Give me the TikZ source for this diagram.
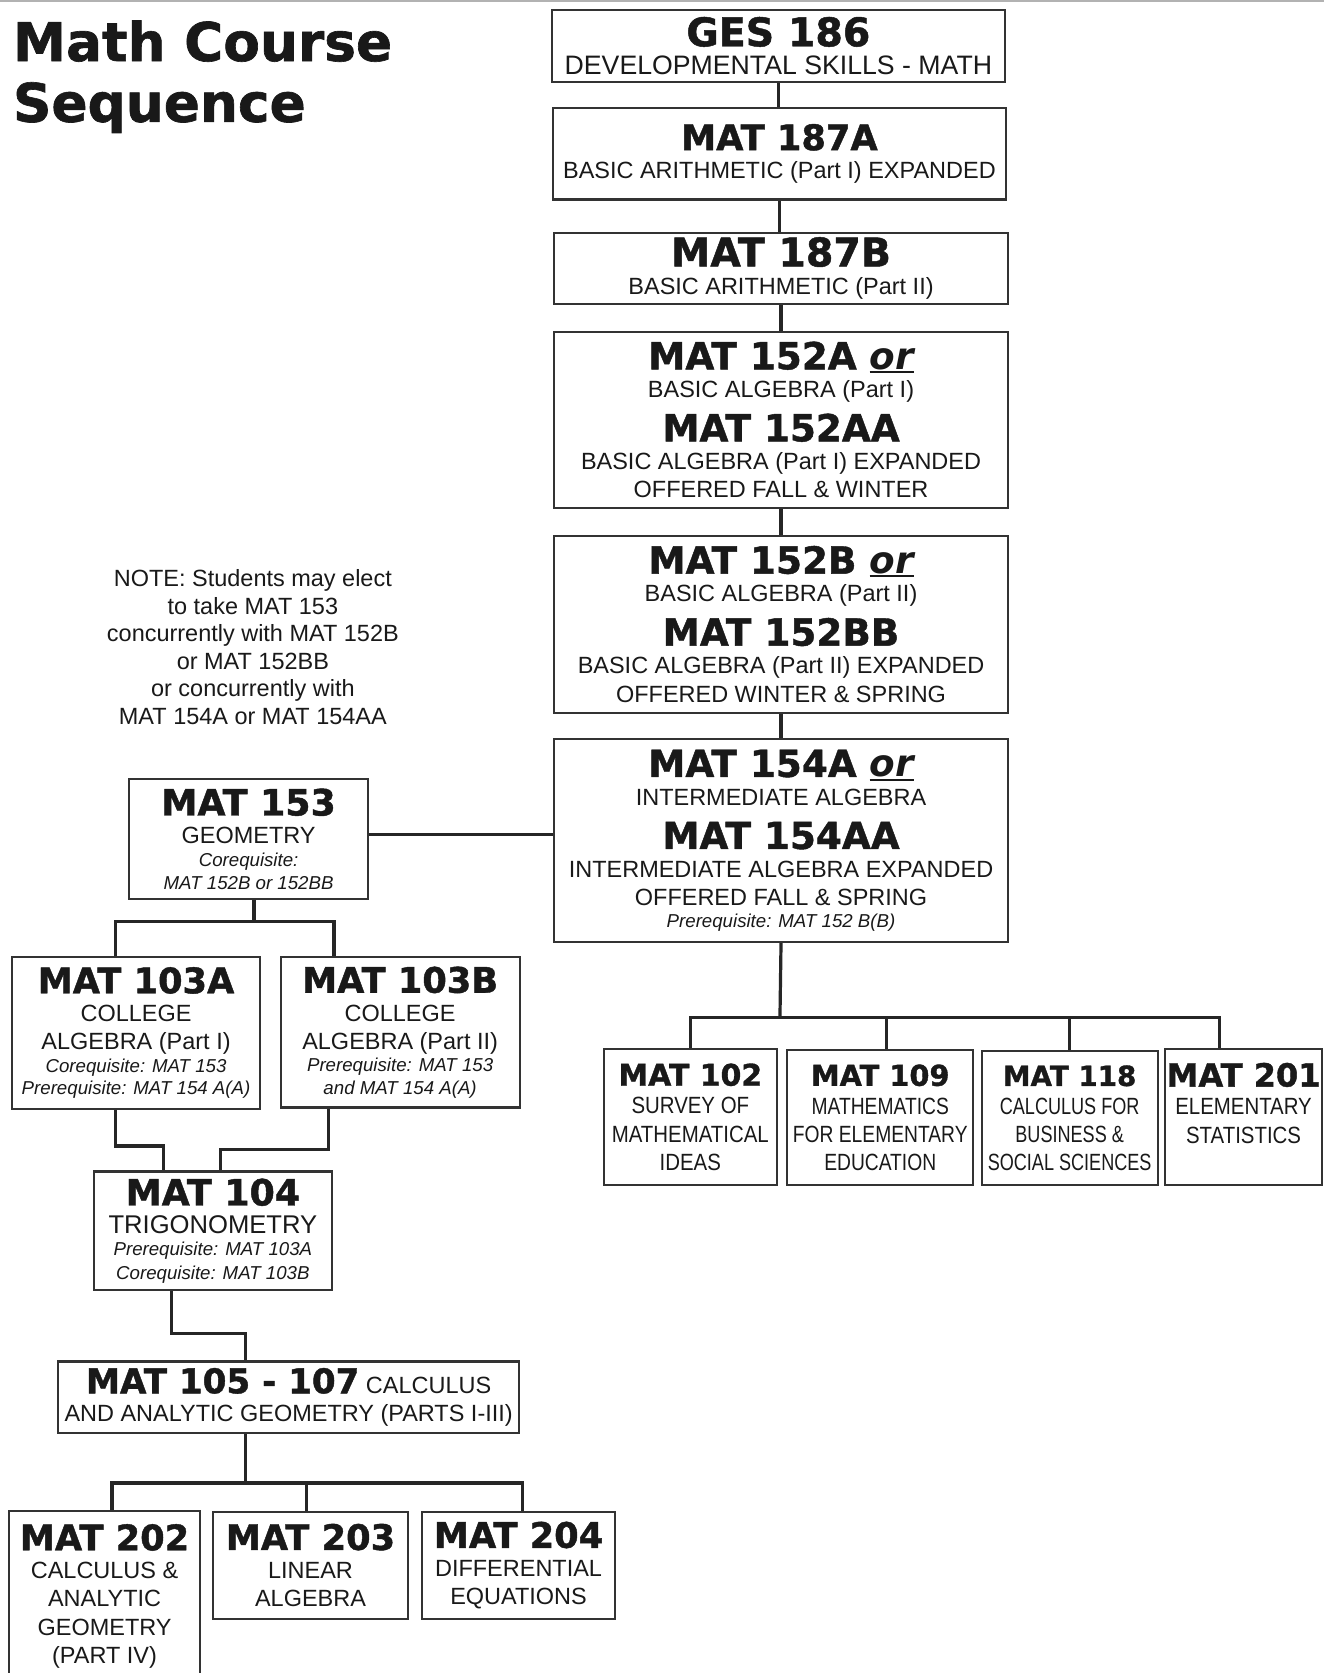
\documentclass[tikz,border=0pt]{standalone}
\usepackage{fontspec}
\usepackage{graphicx}
\setmainfont{Liberation Sans}
\newfontfamily\hdfont[BoldFeatures={FakeBold=1.2}]{DejaVu Sans}
% heading line, body helpers
\newcommand\hd[2][35]{{\hdfont\bfseries\fontsize{#1}{26.5}\selectfont #2}}
\newcommand\req[1]{{\itshape\fontsize{17.5}{21}\selectfont #1}}
\newcommand\cnd[2]{\scalebox{#1}[1]{#2}}
\newcommand\orr{{\itshape\setbox0=\hbox{or}\rlap{\rule[-3.5pt]{\wd0}{2pt}}\box0}}

\begin{document}
\begin{tikzpicture}[x=1pt, y=-1pt,
    course/.style={draw=black!80, line width=2pt, fill=white, align=center,
        inner sep=0pt, text=black!90,
        font={\fontsize{22}{26.5}\selectfont\lineskiplimit=-100pt}},
    link/.style={draw=black!85, line width=3pt}]
    \fill[white] (0,0) rectangle (1241,1568);
    \useasboundingbox (0,0) rectangle (1241,1568);
    \draw[gray!60, line width=2pt] (0,1) -- (1241,1);

    % title and note
    \node[anchor=north west, inner sep=0pt, align=left, text=black!90,
        font={\hdfont\bfseries\fontsize{50}{57}\selectfont}] (title) at (12,19) {Math Course\\Sequence};
    \node[align=center, inner sep=0pt, text=black!90,
        font={\fontsize{22}{25.8}\selectfont}] (note) at (237,606.5)
        {NOTE: Students may elect\\to take MAT 153\\concurrently with MAT 152B\\or MAT 152BB\\or concurrently with\\MAT 154A or MAT 154AA};

    % main column
    \node[course, minimum width=425pt, minimum height=68pt] (ges) at (729.5,43)
        {\hd[37]{GES 186}\\{\fontsize{25}{26.5}\selectfont DEVELOPMENTAL SKILLS - MATH}};
    \node[course, minimum width=425pt, minimum height=86pt] (m187a) at (730.5,144)
        {\hd[33]{MAT 187A}\\BASIC ARITHMETIC (Part I) EXPANDED};
    \node[course, minimum width=426pt, minimum height=67pt] (m187b) at (732,251.5)
        {\hd[37]{MAT 187B}\\BASIC ARITHMETIC (Part II)};
    \node[course, minimum width=426pt, minimum height=165pt] (m152a) at (732,393.5)
        {\hd{MAT 152A \orr}\\BASIC ALGEBRA (Part I)\\[14.5pt]\hd{MAT 152AA}\\BASIC ALGEBRA (Part I) EXPANDED\\OFFERED FALL \& WINTER};
    \node[course, minimum width=426pt, minimum height=166pt] (m152b) at (732,585)
        {\hd{MAT 152B \orr}\\BASIC ALGEBRA (Part II)\\[14.5pt]\hd{MAT 152BB}\\BASIC ALGEBRA (Part II) EXPANDED\\OFFERED WINTER \& SPRING};
    \node[course, minimum width=426pt, minimum height=190pt] (m154a) at (732,788)
        {\hd{MAT 154A \orr}\\INTERMEDIATE ALGEBRA\\[14.5pt]\hd{MAT 154AA}\\INTERMEDIATE ALGEBRA EXPANDED\\OFFERED FALL \& SPRING\\[-5.5pt]\req{Prerequisite: MAT 152 B(B)}};

    % left branch
    \node[course, minimum width=224pt, minimum height=112pt] (m153) at (233,786.5)
        {\hd[34]{MAT 153}\\GEOMETRY\\[-5pt]\req{Corequisite:}\\[-5pt]\req{MAT 152B or 152BB}};
    \node[course, minimum width=233pt, minimum height=142pt] (m103a) at (127.5,968)
        {\hd[33]{MAT 103A}\\COLLEGE\\ALGEBRA (Part I)\\[-5.5pt]\req{Corequisite: MAT 153}\\[-5.5pt]\req{Prerequisite: MAT 154 A(A)}};
    \node[course, minimum width=224pt, minimum height=141pt] (m103b) at (375,967.5)
        {\hd[33]{MAT 103B}\\COLLEGE\\ALGEBRA (Part II)\\[-5.5pt]\req{Prerequisite: MAT 153}\\[-5.5pt]\req{and MAT 154 A(A)}};
    \node[course, minimum width=223pt, minimum height=111pt] (m104) at (199.5,1153.5)
        {\hd[34]{MAT 104}\\{\fontsize{24}{26.5}\selectfont TRIGONOMETRY}\\[-6pt]\req{Prerequisite: MAT 103A}\\[-4.5pt]\req{Corequisite: MAT 103B}};
    \node[course, minimum width=432pt, minimum height=67pt] (m105) at (270.5,1309.5)
        {\hd[32]{MAT 105 - 107} CALCULUS\\AND ANALYTIC GEOMETRY (PARTS I-III)};
    \node[course, minimum width=179pt, minimum height=160pt] (m202) at (98,1496)
        {\hd[33]{MAT 202}\\CALCULUS \&\\ANALYTIC\\GEOMETRY\\(PART IV)};
    \node[course, minimum width=182pt, minimum height=100pt] (m203) at (291,1467)
        {\hd[33]{MAT 203}\\LINEAR\\ALGEBRA};
    \node[course, minimum width=181pt, minimum height=100pt] (m204) at (486,1467)
        {\hd[33]{MAT 204}\\DIFFERENTIAL\\EQUATIONS};

    % right branch
    \node[course, minimum width=162pt, minimum height=128pt] (m102) at (647,1047)
        {\hd[28]{MAT 102}\\\cnd{0.87}{SURVEY OF}\\\cnd{0.87}{MATHEMATICAL}\\\cnd{0.87}{IDEAS}};
    \node[course, minimum width=174pt, minimum height=127pt] (m109) at (825,1047.5)
        {\hd[27]{MAT 109}\\\cnd{0.82}{MATHEMATICS}\\\cnd{0.82}{FOR ELEMENTARY}\\\cnd{0.82}{EDUCATION}};
    \node[course, minimum width=165pt, minimum height=126pt] (m118) at (1002.5,1048)
        {\hd[26]{MAT 118}\\\cnd{0.77}{CALCULUS FOR}\\\cnd{0.77}{BUSINESS \&}\\\cnd{0.77}{SOCIAL SCIENCES}};
    \node[course, minimum width=147pt, minimum height=128pt] (m201) at (1165.5,1047)
        {\hd[30]{MAT 201}\\\cnd{0.87}{ELEMENTARY}\\\cnd{0.87}{STATISTICS}\\~};

    % connectors, main column
    \draw[link] (ges.south) -- (ges.south |- m187a.north);
    \draw[link] (m187a.south) -- (m187a.south |- m187b.north);
    \draw[link] (m187b.south) -- (m187b.south |- m152a.north);
    \draw[link] (m152a.south) -- (m152a.south |- m152b.north);
    \draw[link] (m152b.south) -- (m152b.south |- m154a.north);
    \draw[link] ([yshift=4.5pt]m153.east) -- ([yshift=4.5pt]m153.east -| m154a.west);

    % connectors, right branch
    \coordinate (rbar) at (731,954);
    \coordinate (d109) at (831,954);
    \coordinate (d201) at (1143,954);
    \draw[link] (m154a.south) -- (rbar);
    \draw[link] (m102.north) -- (m102.north |- rbar) -- (d201) -- (d201 |- m201.north);
    \draw[link] (d109) -- (d109 |- m109.north);
    \draw[link] (m118.north) -- (m118.north |- rbar);

    % connectors, left branch
    \coordinate (a1) at (238,864);
    \coordinate (a103a) at (108,864);
    \coordinate (a103b) at (313,864);
    \draw[link] (a1 |- m153.south) -- (a1);
    \draw[link] (a103a |- m103a.north) -- (a103a) -- (a103b) -- (a103b |- m103b.north);
    \coordinate (c1) at (108,1074);
    \coordinate (c2) at (153,1074);
    \coordinate (c3) at (308,1077);
    \coordinate (c4) at (207,1077);
    \draw[link] (c1 |- m103a.south) -- (c1) -- (c2) -- (c2 |- m104.north);
    \draw[link] (c3 |- m103b.south) -- (c3) -- (c4) -- (c4 |- m104.north);
    \coordinate (e1) at (161,1250);
    \coordinate (e2) at (230,1250);
    \draw[link] (e1 |- m104.south) -- (e1) -- (e2) -- (e2 |- m105.north);
    \coordinate (f1) at (230,1390);
    \coordinate (f202) at (105,1390);
    \coordinate (f203) at (287,1390);
    \coordinate (f204) at (490,1390);
    \draw[link] (f1 |- m105.south) -- (f1);
    \draw[link] (f202 |- m202.north) -- (f202) -- (f204) -- (f204 |- m204.north);
    \draw[link] (f203) -- (f203 |- m203.north);
\end{tikzpicture}
\end{document}
